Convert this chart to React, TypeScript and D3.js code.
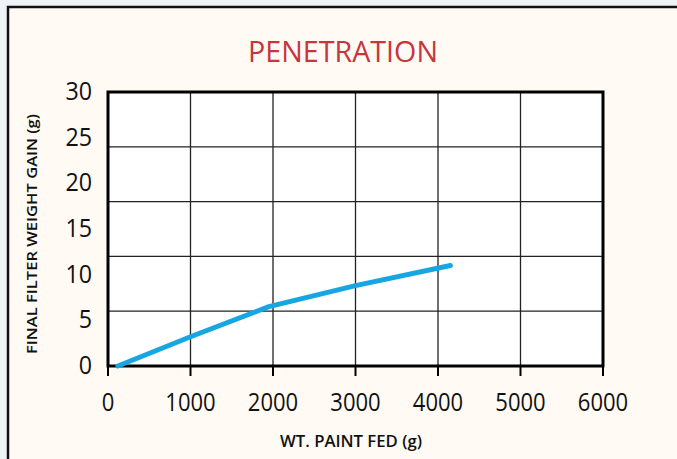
import React from 'react';
import * as d3 from 'd3';

// curve
const paintFed = [120, 1000, 1950, 3000, 4150];
const filterGain = [0, 3.2, 6.5, 8.8, 11.0];

const xTicks = [0, 1000, 2000, 3000, 4000, 5000, 6000];
const yTicks = [0, 5, 10, 15, 20, 25, 30];
// the printed grid has five rows while the labels step by 5
const gridRows = [0, 1, 2, 3, 4, 5];

const title = 'PENETRATION';
const xLabel = 'WT. PAINT FED (g)';
const yLabel = 'FINAL FILTER WEIGHT GAIN (g)';

const width = 677;
const height = 459;
const plot = { left: 108, right: 603, top: 92, bottom: 366 };

const font = '"Open Sans", "DejaVu Sans", sans-serif';

export default function App() {
  const x = d3.scaleLinear().domain([0, 6000]).range([plot.left, plot.right]);
  const y = d3.scaleLinear().domain([0, 30]).range([plot.bottom, plot.top]);
  const gridY = d3.scaleLinear().domain([0, 5]).range([plot.bottom, plot.top]);

  const points = paintFed.map((v, i) => [v, filterGain[i]] as [number, number]);
  const line = d3
    .line<[number, number]>()
    .x(d => x(d[0]))
    .y(d => y(d[1]));

  return (
    <svg width={width} height={height} style={{ position: 'absolute', left: 0, top: 0 }}>
      <rect x={0} y={0} width={width} height={height} fill="#eef3f8" />
      <rect x={8} y={7} width={width + 20} height={height + 20} fill="#fffaf3" stroke="#111" strokeWidth={2.5} />

      <text x={343} y={62} textAnchor="middle" fill="#c7353d" fontFamily={font} fontSize={29}
        textLength={190} lengthAdjust="spacingAndGlyphs">{title}</text>

      <rect x={plot.left} y={plot.top} width={plot.right - plot.left} height={plot.bottom - plot.top} fill="#fff" />

      {gridRows.slice(1, -1).map(r => (
        <line key={'h' + r} x1={plot.left} x2={plot.right} y1={gridY(r)} y2={gridY(r)} stroke="#222" strokeWidth={1.3} />
      ))}
      {xTicks.slice(1, -1).map(t => (
        <line key={'v' + t} x1={x(t)} x2={x(t)} y1={plot.top} y2={plot.bottom} stroke="#222" strokeWidth={1.3} />
      ))}

      <rect x={plot.left} y={plot.top} width={plot.right - plot.left} height={plot.bottom - plot.top}
        fill="none" stroke="#000" strokeWidth={3} />

      {xTicks.map(t => (
        <g key={'xt' + t}>
          <line x1={x(t)} x2={x(t)} y1={plot.bottom} y2={plot.bottom + 10} stroke="#000" strokeWidth={2} />
          <text x={x(t)} y={411} textAnchor="middle" fontFamily={font} fontSize={25} fill="#111"
            textLength={String(t).length * 12.6} lengthAdjust="spacingAndGlyphs">{t}</text>
        </g>
      ))}

      {yTicks.map(t => (
        <text key={'yt' + t} x={92} y={y(t) + 8} textAnchor="end" fontFamily={font} fontSize={25} fill="#111"
          textLength={String(t).length * 13.3} lengthAdjust="spacingAndGlyphs">{t}</text>
      ))}

      <path d={line(points) || ''} fill="none" stroke="#16a6e2" strokeWidth={5} strokeLinecap="round" strokeLinejoin="round" />

      <text x={351} y={447} textAnchor="middle" fontFamily={font} fontSize={17} fontWeight={600} fill="#111"
        textLength={142} lengthAdjust="spacingAndGlyphs">{xLabel}</text>
      <text transform={`translate(37, 234) rotate(-90)`} textAnchor="middle" fontFamily={font} fontSize={15}
        fontWeight={600} fill="#111" textLength={240} lengthAdjust="spacingAndGlyphs">{yLabel}</text>
    </svg>
  );
}
